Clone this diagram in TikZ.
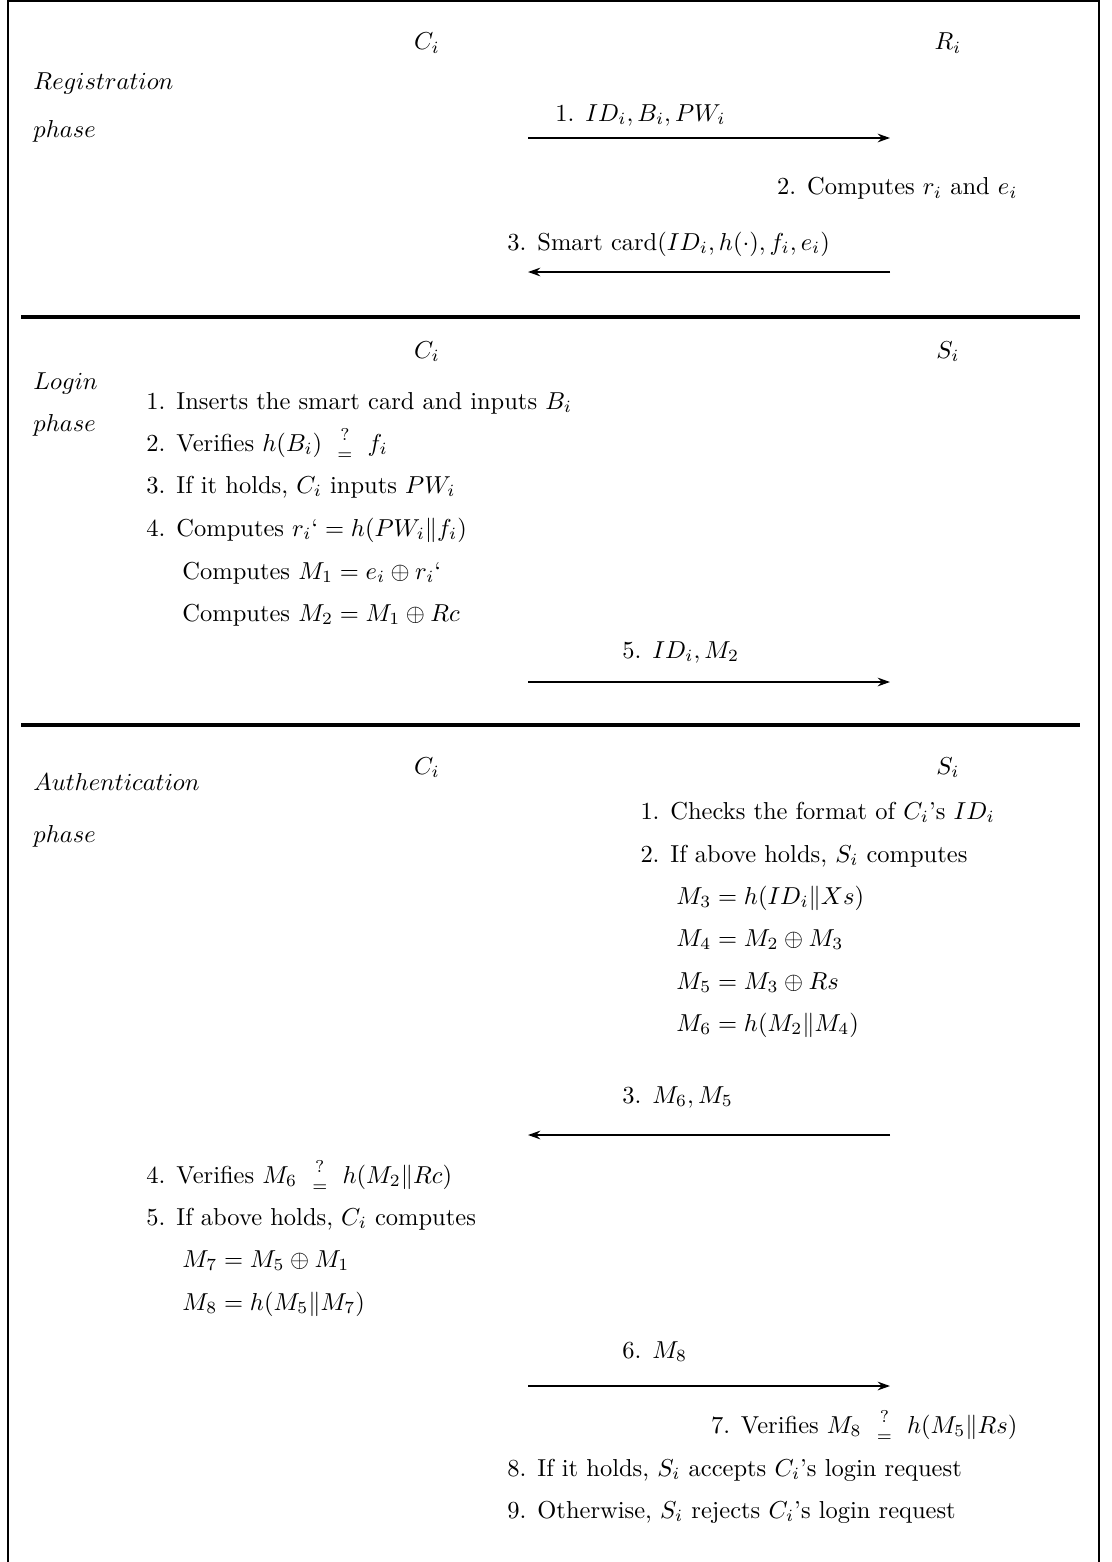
\documentclass[tikz,border=0pt]{standalone}
\usetikzlibrary{arrows.meta}
\newcommand{\qeq}{\ \,{?\atop =}\ \,}
\begin{document}
\begin{tikzpicture}[x=0.4082pt,y=-0.4082pt,
  txt/.style={inner sep=0pt,anchor=base west},
  rtxt/.style={inner sep=0pt,anchor=base east},
  hdr/.style={inner sep=0pt,anchor=base},
  msg/.style={line width=0.8pt,-{Stealth[length=5pt,width=3.5pt]}},
  sep/.style={line width=1.5pt},
  frame/.style={line width=1.2pt}]
\useasboundingbox (0,0) rectangle (1111,1562);
% frame
\draw[frame] (8,1570) -- (8,1) -- (1099,1) -- (1099,1570);
% separators
\draw[sep] (21,317) -- (1080,317);
\draw[sep] (21,725) -- (1080,725);

% ---------- Registration ----------
\node[hdr] (c1) at (427,50) {$C_i$};
\node[hdr] (r1) at (948,50) {$R_i$};
\node[txt] (reg1) at (33,90) {$Registration$};
\node[txt] (reg2) at (33,138) {$phase$};
\node[txt] (m1) at (555,121) {1. $ID_i, B_i, PW_i$};
\coordinate (a1s) at (528,138);
\coordinate (a1e) at (890,138);
\draw[msg] (a1s) -- (a1e);
\node[rtxt] (m2) at (1018,195) {2. Computes $r_i$ and $e_i$};
\node[txt] (m3) at (507,250) {3. Smart card$(ID_i, h(\cdot), f_i, e_i)$};
\coordinate (a2s) at (890,272);
\coordinate (a2e) at (528,272);
\draw[msg] (a2s) -- (a2e);

% ---------- Login ----------
\node[hdr] (c2) at (427,358) {$C_i$};
\node[hdr] (s2) at (948,358) {$S_i$};
\node[txt] (log1) at (33,389) {$Login$};
\node[txt] (log2) at (33,431) {$phase$};
\node[txt] (l1) at (146,409) {1. Inserts the smart card and inputs $B_i$};
\node[txt] (l2) at (146,451) {2. Verifies $h(B_i)\qeq f_i$};
\node[txt] (l3) at (146,493) {3. If it holds, $C_i$ inputs $PW_i$};
\node[txt] (l4) at (146,536) {4. Computes $r_i\mbox{`} = h(PW_i\|f_i)$};
\node[txt] (l5) at (182,579) {Computes $M_1 = e_i \oplus r_i\mbox{`}$};
\node[txt] (l6) at (182,621) {Computes $M_2 = M_1 \oplus Rc$};
\node[txt] (l7) at (622,658) {5. $ID_i, M_2$};
\coordinate (a3s) at (528,682);
\coordinate (a3e) at (890,682);
\draw[msg] (a3s) -- (a3e);

% ---------- Authentication ----------
\node[hdr] (c3) at (427,774) {$C_i$};
\node[hdr] (s3) at (948,774) {$S_i$};
\node[txt] (au1) at (33,790) {$Authentication$};
\node[txt] (au2) at (33,842) {$phase$};
\node[txt] (s31) at (640,819) {1. Checks the format of $C_i$'s $ID_i$};
\node[txt] (s32) at (640,862) {2. If above holds, $S_i$ computes};
\node[txt] (s33) at (676,904) {$M_3 = h(ID_i\|Xs)$};
\node[txt] (s34) at (676,946) {$M_4 = M_2 \oplus M_3$};
\node[txt] (s35) at (676,989) {$M_5 = M_3 \oplus Rs$};
\node[txt] (s36) at (676,1031) {$M_6 = h(M_2\|M_4)$};
\node[txt] (m6) at (622,1103) {3. $M_6, M_5$};
\coordinate (a4s) at (890,1135);
\coordinate (a4e) at (528,1135);
\draw[msg] (a4s) -- (a4e);
\node[txt] (c34) at (146,1183) {4. Verifies $M_6\qeq h(M_2\|Rc)$};
\node[txt] (c35) at (146,1225) {5. If above holds, $C_i$ computes};
\node[txt] (c36) at (182,1267) {$M_7 = M_5 \oplus M_1$};
\node[txt] (c37) at (182,1310) {$M_8 = h(M_5\|M_7)$};
\node[txt] (m8) at (622,1358) {6. $M_8$};
\coordinate (a5s) at (528,1386);
\coordinate (a5e) at (890,1386);
\draw[msg] (a5s) -- (a5e);
\node[rtxt] (s37) at (1018,1433) {7. Verifies $M_8\qeq h(M_5\|Rs)$};
\node[txt] (s38) at (507,1476) {8. If it holds, $S_i$ accepts $C_i$'s login request};
\node[txt] (s39) at (507,1518) {9. Otherwise, $S_i$ rejects $C_i$'s login request};
\end{tikzpicture}
\end{document}
